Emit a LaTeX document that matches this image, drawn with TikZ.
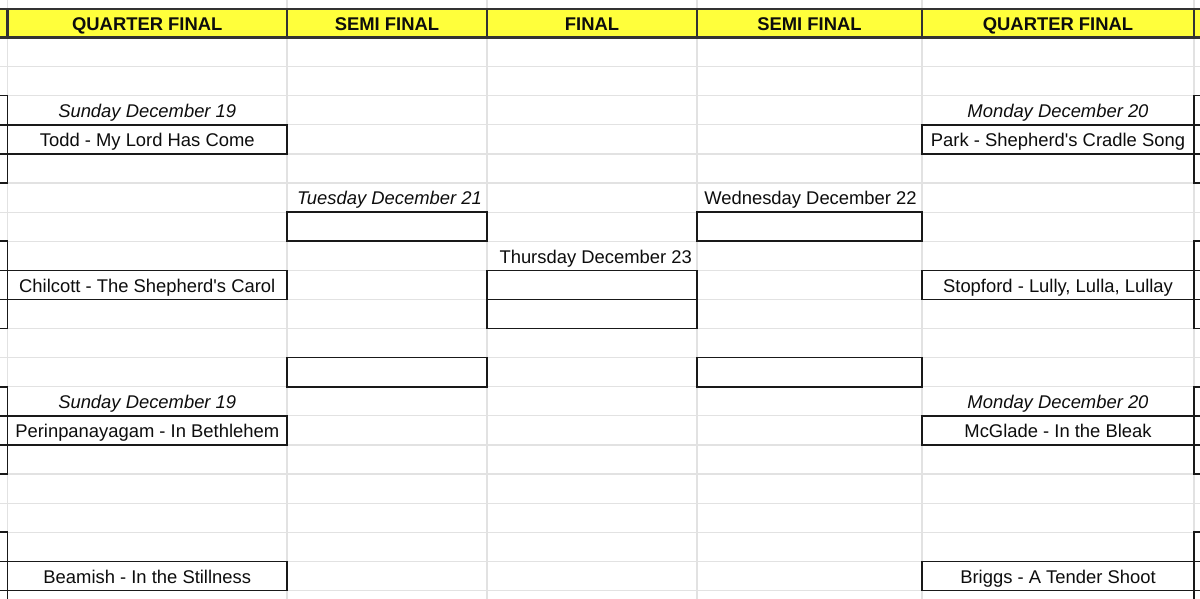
\documentclass[tikz,border=0pt]{standalone}
\usepackage{fontspec}
\setmainfont{Liberation Sans}
\usepackage{xcolor}
\definecolor{cell-yellow}{RGB}{255,255,59}
\definecolor{grid-gray}{RGB}{226,226,226}
\tikzset{
    sheet-text/.style = {font=\fontsize{18.4}{21}\selectfont, text=black!95, text height=17pt, text depth=2.3pt, inner sep=0pt},
    head-cell/.style = {sheet-text, draw=black!80, fill=cell-yellow, line width=2.3pt, minimum height=28.5pt, font=\fontsize{18.4}{21}\selectfont\bfseries},
    song-box/.style = {sheet-text, draw=black!90, fill=white, line width=1.6pt, minimum height=29.1pt},
    day-label/.style = {sheet-text, font=\fontsize{18.4}{21}\selectfont\itshape},
    grid-line/.style = {draw=grid-gray, line width=1.2pt},
    edge-box/.style = {draw=black!90, line width=1.6pt},
}

\begin{document}
\begin{tikzpicture}[x=1pt, y=-29.1pt]
\useasboundingbox (0,-1.2887) rectangle (1200,19.2955);
% sheet grid
\foreach \r in {1,...,19} \draw[grid-line] (0,\r) -- (1200,\r);
\foreach \c in {7.5,287,487,697,922,1194} \draw[grid-line] (\c,-1.3) -- (\c,19.3);

% header row
\draw[fill=cell-yellow, draw=black!80, line width=2.3pt] (-5,-0.979) rectangle (1205,0);
\node[head-cell, minimum width=279.5pt] (qf-left) at (147.25,-0.4895) {QUARTER FINAL};
\node[head-cell, minimum width=200pt] (sf-left) at (387,-0.4895) {SEMI FINAL};
\node[head-cell, minimum width=210pt] (final) at (592,-0.4895) {FINAL};
\node[head-cell, minimum width=225pt] (sf-right) at (809.5,-0.4895) {SEMI FINAL};
\node[head-cell, minimum width=272pt] (qf-right) at (1058,-0.4895) {QUARTER FINAL};

% brackets cut off at both edges
\foreach \r in {2,7,12,17} {
    \draw[edge-box] (-5,\r) rectangle (7.5,\r+3) (-5,\r+1) -- (7.5,\r+1) (-5,\r+2) -- (7.5,\r+2);
    \draw[edge-box] (1194,\r) rectangle (1205,\r+3) (1194,\r+1) -- (1205,\r+1) (1194,\r+2) -- (1205,\r+2);
}

% quarter finals, left
\node[day-label] (sun-top) at (147.25,2.5) {Sunday December 19};
\node[song-box, minimum width=279.5pt] (todd) at (147.25,3.5) {Todd - My Lord Has Come};
\node[song-box, minimum width=279.5pt] (chilcott) at (147.25,8.5) {Chilcott - The Shepherd\textquotesingle s Carol};
\node[day-label] (sun-bottom) at (147.25,12.5) {Sunday December 19};
\node[song-box, minimum width=279.5pt] (perinpanayagam) at (147.25,13.5) {Perinpanayagam - In Bethlehem};
\node[song-box, minimum width=279.5pt] (beamish) at (147.25,18.5) {Beamish - In the Stillness};

% semi final, left
\node[day-label, anchor=east] (tue) at (482,5.5) {Tuesday December 21};
\node[song-box, minimum width=200pt] (sf-left-top) at (387,6.5) {};
\node[song-box, minimum width=200pt] (sf-left-bottom) at (387,11.5) {};

% final
\node[sheet-text, anchor=east] (thu) at (692,7.5) {Thursday December 23};
\node[song-box, minimum width=210pt] (final-top) at (592,8.5) {};
\node[song-box, minimum width=210pt] (final-bottom) at (592,9.5) {};

% semi final, right
\node[sheet-text] (wed) at (810.5,5.5) {Wednesday December 22};
\node[song-box, minimum width=225pt] (sf-right-top) at (809.5,6.5) {};
\node[song-box, minimum width=225pt] (sf-right-bottom) at (809.5,11.5) {};

% quarter finals, right
\node[day-label] (mon-top) at (1058,2.5) {Monday December 20};
\node[song-box, minimum width=272pt] (park) at (1058,3.5) {Park - Shepherd\textquotesingle s Cradle Song};
\node[song-box, minimum width=272pt] (stopford) at (1058,8.5) {Stopford - Lully, Lulla, Lullay};
\node[day-label] (mon-bottom) at (1058,12.5) {Monday December 20};
\node[song-box, minimum width=272pt] (mcglade) at (1058,13.5) {McGlade - In the Bleak};
\node[song-box, minimum width=272pt] (briggs) at (1058,18.5) {Briggs - A Tender Shoot};
\end{tikzpicture}
\end{document}
